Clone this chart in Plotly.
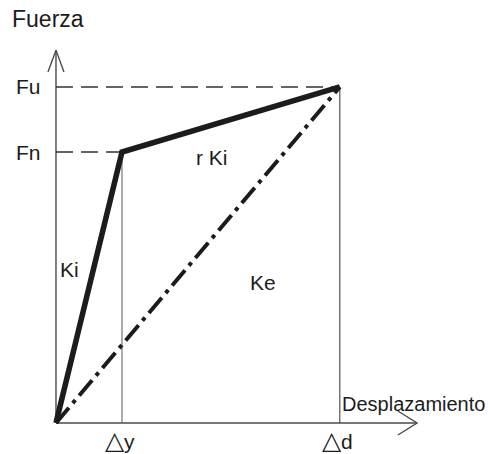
import plotly.graph_objects as go

# Bilinear force-displacement idealisation
disp_symbols = ["y", "d"]
disp_values = [1.0, 4.3]          # yield and ultimate displacement
force_labels = ["Fn", "Fu"]
force_values = [1.0, 1.24]        # yield and ultimate force
segment_labels = ["Ki", "r Ki", "Ke"]

dy, dd = disp_values
fn, fu = force_values

FONT = "Liberation Sans, Arial, sans-serif"
INK = "#1c1c1c"
GREY = "#4a4a4a"

fig = go.Figure()

def seg(xs, ys, color, width, dash="solid"):
    fig.add_trace(go.Scatter(x=xs, y=ys, mode="lines", hoverinfo="skip",
                             line=dict(color=color, width=width, dash=dash),
                             showlegend=False))

# axes with open arrow heads
y_top = 1.376
x_end = 5.47
seg([0, 0], [0, y_top], GREY, 1.4)
seg([-0.121, 0, 0.121], [1.295, y_top, 1.295], GREY, 1.4)
seg([0, x_end], [0, 0], GREY, 1.4)
seg([5.18, x_end, 5.18], [0.0443, 0, -0.0443], GREY, 1.4)

# reference lines at yield and ultimate points
seg([0, dy], [fn, fn], "#333333", 1.5, "17px,8px")
seg([0, dd], [fu, fu], "#333333", 1.5, "17px,8px")
seg([dy, dy], [0, fn], "#666666", 1.1)
seg([dd, dd], [0, fu], "#444444", 1.1)

# secant stiffness
seg([0, dd], [0, fu], INK, 4, "20px,6px,4px,6px")

# bilinear curve
seg([0, dy, dd], [0, fn, fu], INK, 5.5)

def label(x, y, text, size=21, xanchor="center"):
    fig.add_annotation(x=x, y=y, text=text, showarrow=False, xanchor=xanchor,
                       yanchor="middle", font=dict(family=FONT, size=size, color=INK))

label(-0.121, 1.49, "Fuerza", 23)
for f, t in zip(force_values, force_labels):
    label(-0.20, f, t, 21, "right")
for d, s in zip(disp_values, disp_symbols):
    label(d - 0.03, -0.063, "<span style='font-size:25px'>△</span>" + s, 21)
label(4.31, 0.07, "Desplazamiento", 20, "left")
label(0.212, 0.565, segment_labels[0])
label(2.36, 0.978, segment_labels[1])
label(3.14, 0.517, segment_labels[2])

fig.update_layout(
    width=488, height=454,
    margin=dict(l=0, r=0, t=0, b=0),
    paper_bgcolor="white", plot_bgcolor="white",
    xaxis=dict(range=[-0.848, 6.545], visible=False, fixedrange=True),
    yaxis=dict(range=[-0.1144, 1.561], visible=False, fixedrange=True),
)

fig.write_html("out.html")
